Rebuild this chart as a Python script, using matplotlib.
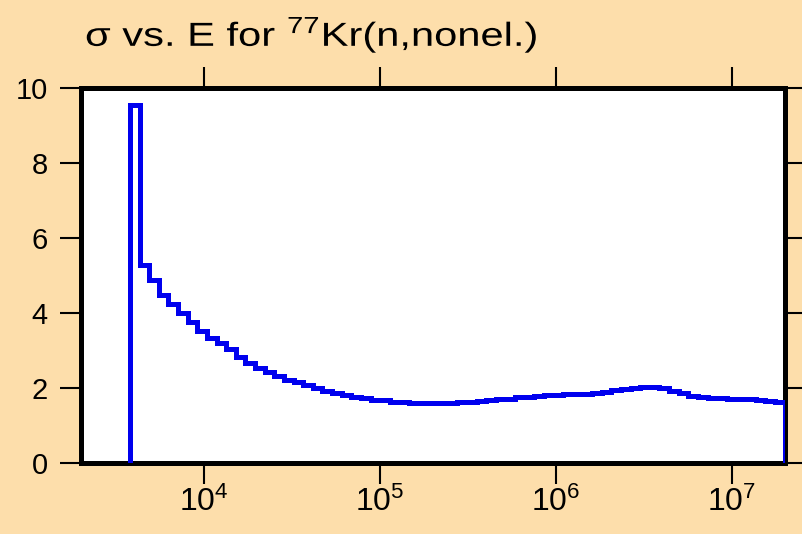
import matplotlib
matplotlib.use("Agg")
import matplotlib.pyplot as plt
import matplotlib.patheffects as pe
from matplotlib.transforms import Affine2D
from matplotlib.ticker import FixedLocator, NullLocator

plt.rcParams['font.family'] = ['Liberation Sans', 'DejaVu Sans']
plt.rcParams['mathtext.fontset'] = 'custom'
plt.rcParams['mathtext.rm'] = 'Liberation Sans'

# Energy bin edges (eV)
energy_edges = [3793, 4302, 4880, 5535, 6278, 7121, 8077, 9161, 10390, 11785,
                13366, 15160, 17195, 19503, 22120, 25089, 28456, 32275, 36607, 41520,
                47094, 53414, 60583, 68714, 77937, 88397, 100280, 113740, 129000, 146300,
                165960, 188240, 213500, 242160, 274660, 311530, 353340, 400770, 454560, 515570,
                584790, 663270, 752300, 853270, 967800, 1097700, 1245000, 1412200, 1601700, 1816700,
                2060500, 2337100, 2650800, 3006600, 3410200, 3867900, 4387100, 4975900, 5643800, 6401300,
                7260500, 8235000, 9340500, 10594000, 12016000, 13629000, 15458000, 17533000, 19950000]

# Cross section per bin (b)
sigma = [9.55, 5.29, 4.87, 4.47, 4.23, 4.01, 3.76, 3.51, 3.33, 3.20,
         3.05, 2.84, 2.67, 2.53, 2.42, 2.31, 2.22, 2.15, 2.09, 2.01,
         1.93, 1.86, 1.81, 1.76, 1.73, 1.69, 1.67, 1.64, 1.62, 1.61,
         1.61, 1.60, 1.60, 1.60, 1.62, 1.64, 1.66, 1.68, 1.70, 1.72,
         1.75, 1.77, 1.79, 1.81, 1.82, 1.83, 1.84, 1.85, 1.86, 1.90,
         1.94, 1.98, 2.01, 2.04, 2.04, 1.99, 1.93, 1.87, 1.80, 1.76,
         1.74, 1.73, 1.72, 1.71, 1.70, 1.68, 1.66, 1.62]

x_ticks = [1e4, 1e5, 1e6, 1e7]
y_ticks = [0, 2, 4, 6, 8, 10]
title = r"σ vs. E for $^{77}$Kr(n,nonel.)"


class HStretch(pe.AbstractPathEffect):
    """Draw the (real) text stretched horizontally about its origin."""
    def __init__(self, sx):
        super().__init__()
        self.sx = sx

    def draw_path(self, renderer, gc, tpath, affine, rgbFace=None):
        renderer.draw_path(gc, tpath, Affine2D().scale(self.sx, 1.0) + affine, rgbFace)


W, H = 803, 534
fig = plt.figure(figsize=(W / 100, H / 100), dpi=100)
fig.patch.set_facecolor('#fddeab')
ax = fig.add_axes([81 / W, (H - 463) / H, (785 - 81) / W, (463 - 88) / H])
ax.set_facecolor('white')

ax.stairs(sigma, energy_edges, baseline=0, color='#0000ee', linewidth=3.6, zorder=3)

ax.set_xscale('log')
ax.set_xlim(2e3, 2e7)
ax.set_ylim(0, 10)
ax.xaxis.set_major_locator(FixedLocator(x_ticks))
ax.xaxis.set_minor_locator(NullLocator())
ax.yaxis.set_major_locator(FixedLocator(y_ticks))
ax.set_yticklabels([str(v) for v in y_ticks])

ax.tick_params(axis='both', which='major', direction='out', length=15, width=1.5,
               top=True, right=True, color='black')
ax.tick_params(axis='x', pad=2, labelsize=23)
ax.tick_params(axis='y', pad=9, labelsize=21)
for s in ax.spines.values():
    s.set_linewidth(3.6)
    s.set_color('black')

t = fig.text(85 / W, 1 - 46 / H, title, fontsize=24, ha='left', va='baseline')
t.set_path_effects([HStretch(1.25)])

fig.savefig('out.png', dpi=100, facecolor=fig.get_facecolor())
